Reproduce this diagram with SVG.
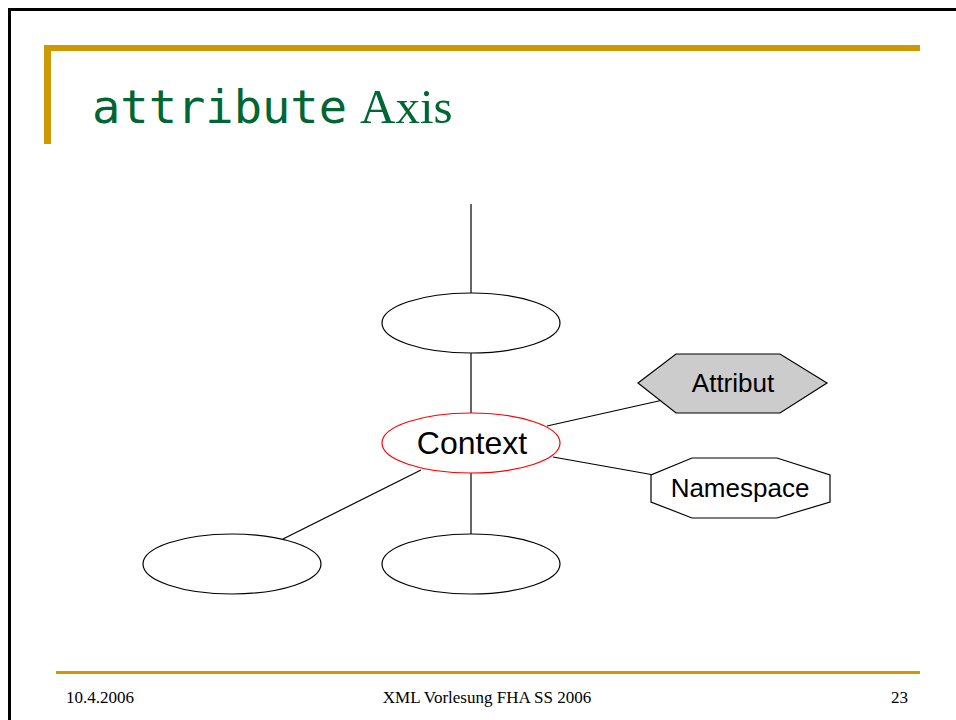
<svg xmlns="http://www.w3.org/2000/svg" width="956" height="720" viewBox="0 0 956 720">
<style>
.e{fill:#fff;stroke:#000;stroke-width:1.2}
.c{stroke:#000;stroke-width:1.2;fill:none}
.lbl{font-family:"Liberation Sans",Arial,sans-serif;fill:#000;text-anchor:middle}
.ft{font-family:"Liberation Serif","Times New Roman",serif;font-size:17px;fill:#000}
.gold{fill:#cc9900}
</style>
<rect x="0" y="0" width="956" height="720" fill="#fff"/>
<rect x="9.5" y="9.5" width="1000" height="1000" fill="none" stroke="#000" stroke-width="3"/>
<rect class="gold" x="44" y="45" width="876" height="6"/>
<rect class="gold" x="44" y="45" width="7" height="99"/>
<text x="92" y="123" font-family="'DejaVu Sans Mono',monospace" font-size="46" fill="#006633" textLength="255" lengthAdjust="spacingAndGlyphs">attribute</text>
<text x="360" y="123" font-family="'Liberation Serif','Times New Roman',serif" font-size="49" fill="#006633">Axis</text>
<g id="connectors">
<line class="c" x1="471" y1="204" x2="471" y2="293"/>
<line class="c" x1="471" y1="353" x2="471" y2="413"/>
<line class="c" x1="471" y1="473" x2="471" y2="534"/>
<line class="c" x1="421" y1="470" x2="283" y2="539"/>
<line class="c" x1="547" y1="426" x2="663" y2="400"/>
<line class="c" x1="553" y1="457" x2="654" y2="475"/>
</g>
<g id="parent"><ellipse class="e" cx="471" cy="323" rx="89" ry="30"/></g>
<g id="context"><ellipse cx="471" cy="443" rx="89" ry="30" fill="#fff" stroke="#ff0000" stroke-width="1.2"/>
<text class="lbl" x="472" y="454" font-size="32">Context</text></g>
<g id="child-left"><ellipse class="e" cx="232" cy="564" rx="89" ry="30"/></g>
<g id="child-center"><ellipse class="e" cx="471" cy="564" rx="89" ry="30"/></g>
<g id="attribut"><polygon points="638,383 676,354 780,354 827,383 780,413 676,413" fill="#cccccc" stroke="#000" stroke-width="1.2"/>
<text class="lbl" x="733" y="392" font-size="26">Attribut</text></g>
<g id="namespace"><polygon points="692,458 777,458 830,475 830,502 777,518 692,518 651,502 651,475" class="e"/>
<text class="lbl" x="740" y="497" font-size="26">Namespace</text></g>
<rect class="gold" x="56" y="671" width="864" height="3"/>
<text class="ft" x="66" y="703">10.4.2006</text>
<text class="ft" x="487" y="703" text-anchor="middle">XML Vorlesung FHA SS 2006</text>
<text class="ft" x="908" y="703" text-anchor="end">23</text>
</svg>
